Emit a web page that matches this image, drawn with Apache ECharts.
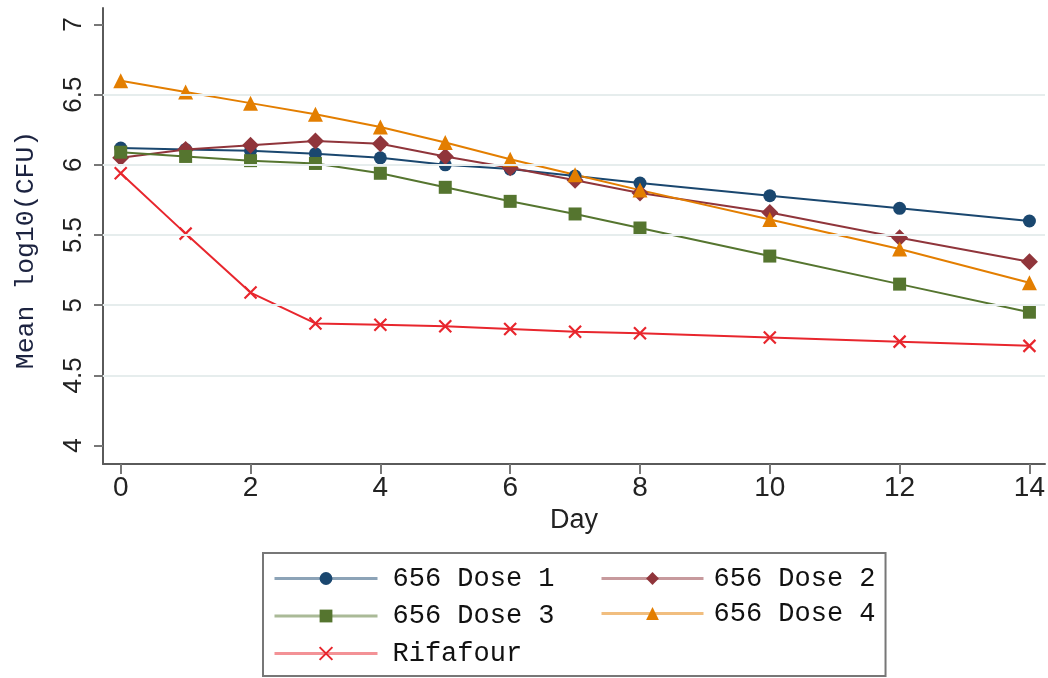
<!DOCTYPE html>
<html>
<head>
<meta charset="utf-8">
<script src="https://cdn.jsdelivr.net/npm/echarts@6/dist/echarts.min.js"></script>
<style>
html,body{margin:0;padding:0;background:#fff;}
#chart{width:1048px;height:678px;}
</style>
</head>
<body>
<div id="chart"></div>
<script>
const days = [0, 1, 2, 3, 4, 5, 6, 7, 8, 10, 12, 14];
const dose1 = [6.12, 6.11, 6.10, 6.08, 6.05, 6.00, 5.97, 5.92, 5.87, 5.78, 5.69, 5.60];
const dose2 = [6.05, 6.11, 6.14, 6.17, 6.15, 6.06, 5.98, 5.89, 5.80, 5.66, 5.48, 5.31];
const dose3 = [6.09, 6.06, 6.03, 6.01, 5.94, 5.84, 5.74, 5.65, 5.55, 5.35, 5.15, 4.95];
const dose4 = [6.60, 6.52, 6.44, 6.36, 6.27, 6.16, 6.04, 5.93, 5.82, 5.61, 5.40, 5.16];
const rifafour = [5.94, 5.51, 5.09, 4.87, 4.86, 4.85, 4.83, 4.81, 4.80, 4.77, 4.74, 4.71];
const seriesNames = ['656 Dose 1', '656 Dose 2', '656 Dose 3', '656 Dose 4', 'Rifafour'];
const xTicks = [0, 2, 4, 6, 8, 10, 12, 14];
const yTicks = [4, 4.5, 5, 5.5, 6, 6.5, 7];
const yGrid = [4.5, 5, 5.5, 6, 6.5];

const colors = ['#1a476f', '#90353b', '#55752f', '#e37e00', '#e8262d'];
const symbols = ['circle', 'diamond', 'rect', 'triangle', 'path://M0,0L10,10M10,0L0,10'];
const sizes = [13, 17, 13, 15, 12];
const values = [dose1, dose2, dose3, dose4, rifafour];

const sans = "'Liberation Sans', Arial, sans-serif";
const mono = "'Liberation Mono', 'DejaVu Sans Mono', monospace";

const series = values.map((vals, i) => ({
  name: seriesNames[i],
  type: 'line',
  data: days.map((d, j) => [d, vals[j]]),
  symbol: symbols[i],
  symbolSize: sizes[i],
  showAllSymbol: true,
  lineStyle: { color: colors[i], width: 2 },
  itemStyle: i === 4
    ? { color: colors[i], borderColor: colors[i], borderWidth: 2.2 }
    : { color: colors[i], borderWidth: 0 },
  emphasis: { disabled: true },
  z: 3
}));

series.unshift({
  type: 'line',
  data: [],
  silent: true,
  z: 1,
  markLine: {
    silent: true,
    symbol: 'none',
    label: { show: false },
    lineStyle: { color: '#e6eded', width: 2, type: 'solid' },
    data: yGrid.map(v => ({ yAxis: v }))
  }
});

const chart = echarts.init(document.getElementById('chart'));
chart.setOption({
  backgroundColor: '#fff',
  animation: false,
  grid: { left: 103, right: 3, top: 8, bottom: 214, containLabel: false },
  xAxis: {
    type: 'value',
    min: -0.273,
    max: 14.24,
    name: 'Day',
    nameLocation: 'middle',
    nameGap: 41,
    nameTextStyle: { fontFamily: sans, fontSize: 27, color: '#222' },
    axisLine: { show: true, onZero: false, lineStyle: { color: '#5a5a5a', width: 2 } },
    axisTick: { show: true, length: 10, customValues: xTicks, lineStyle: { color: '#777', width: 2 } },
    axisLabel: { customValues: xTicks, fontFamily: sans, fontSize: 28, color: '#222', margin: 10 },
    splitLine: { show: false }
  },
  yAxis: {
    type: 'value',
    min: 3.868,
    max: 7.118,
    name: 'Mean log10(CFU)',
    nameLocation: 'middle',
    nameGap: 64,
    nameRotate: 90,
    nameTextStyle: { fontFamily: mono, fontSize: 26.5, color: '#1c2340', padding: [0, 28, 0, 0] },
    axisLine: { show: true, onZero: false, lineStyle: { color: '#5a5a5a', width: 2 } },
    axisTick: { show: true, length: 9, customValues: yTicks, lineStyle: { color: '#777', width: 2 } },
    axisLabel: { customValues: yTicks, rotate: 90, fontFamily: sans, fontSize: 26, color: '#222', margin: 16 },
    splitLine: { show: false }
  },
  legend: [
    {
      data: ['656 Dose 1', '656 Dose 3', 'Rifafour'],
      orient: 'vertical',
      left: 263,
      top: 553,
      padding: [12, 331, 9, 10],
      itemGap: 10.5,
      itemWidth: 103,
      itemHeight: 16,
      borderColor: '#777',
      borderWidth: 2,
      selectedMode: false,
      lineStyle: { width: 3, opacity: 0.5 },
      textStyle: { fontFamily: mono, fontSize: 27, lineHeight: 27, color: '#111', padding: [0, 0, 0, 10] }
    },
    {
      data: ['656 Dose 2', '656 Dose 4'],
      orient: 'vertical',
      left: 600,
      top: 565,
      padding: 0,
      itemGap: 8,
      itemWidth: 102,
      itemHeight: 16,
      selectedMode: false,
      lineStyle: { width: 3, opacity: 0.5 },
      textStyle: { fontFamily: mono, fontSize: 27, lineHeight: 27, color: '#111', padding: [0, 0, 0, 5] }
    }
  ],
  series: series
});
</script>
</body>
</html>
